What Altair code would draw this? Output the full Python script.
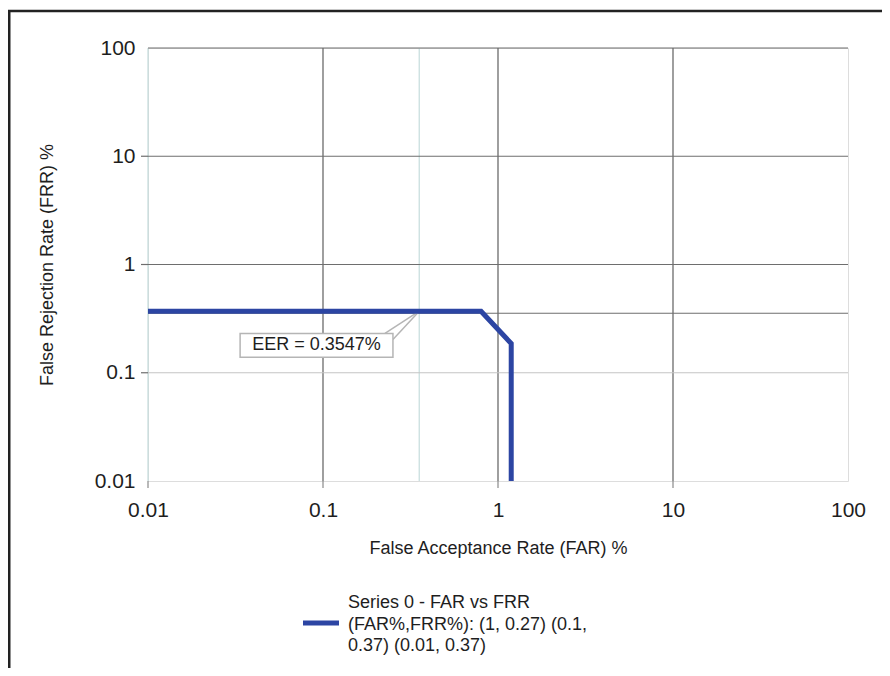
import altair as alt
import pandas as pd

# ---- data ----
far = [0.01, 0.8, 1.19, 1.19]
frr = [0.37, 0.37, 0.186, 0.01]
axis_values = [0.01, 0.1, 1, 10, 100]
x_tick_values = [0.01, 0.1, 1, 10]
y_tick_values = [10, 1, 0.1]
grid_v_dark = [0.1, 1, 10]
grid_v_light = [0.01, 0.3547]
grid_h_dark = [100, 10, 1, 0.3547]
grid_h_light = [0.1]
eer_far = 0.3547
eer_frr = 0.37
eer_label = "EER = 0.3547%"
box_far = [0.0336, 0.251]
box_frr = [0.139, 0.231]
pointer_far = [0.226, 0.251]
pointer_frr = [0.231, 0.203]
legend_lines = ["Series 0 - FAR vs FRR", "(FAR%,FRR%): (1, 0.27) (0.1,", "0.37) (0.01, 0.37)"]

W, H = 700, 433
FONT = "Liberation Sans"
BLUE = "#2c45a3"
TXT = "#1e1e1e"
xs = alt.Scale(type="log", domain=[0.01, 100])
ys = alt.Scale(type="log", domain=[0.01, 100])

AX = alt.Axis(
    values=axis_values, format="~g", grid=False, domain=False, ticks=False,
    labelPadding=18, labelFontSize=21,
    labelColor=TXT, labelFont=FONT, labelFlush=False, labelOverlap=False,
    labelBound=False, title="False Acceptance Rate (FAR) %", titleFontSize=18,
    titleFontWeight="normal", titleColor=TXT, titleFont=FONT, titlePadding=19)
AY = alt.Axis(
    values=axis_values, format="~g", grid=False, domain=False, ticks=False,
    labelPadding=13, labelFontSize=21,
    labelColor=TXT, labelFont=FONT, labelOverlap=False, labelBound=False,
    title="False Rejection Rate (FRR) %", titleFontSize=18, titleFontWeight="normal",
    titleColor=TXT, titleFont=FONT, titlePadding=38)

def X(f):
    return alt.X(f, scale=xs, axis=AX)

def Y(f):
    return alt.Y(f, scale=ys, axis=AY)

curve_df = pd.DataFrame({"FAR": far, "FRR": frr, "order": list(range(len(far)))})
curve = alt.Chart(curve_df).mark_line(color=BLUE, strokeWidth=5, strokeJoin="miter", clip=False).encode(
    x=X("FAR:Q"), y=Y("FRR:Q"), order="order:O")

def vgrid(vals, color, width):
    df = pd.DataFrame({"v": vals, "top": [100] * len(vals), "bot": [0.01] * len(vals)})
    return alt.Chart(df).mark_rule(color=color, strokeWidth=width).encode(
        x=X("v:Q"), y=Y("top:Q"), y2="bot:Q")

def hgrid(vals, color, width):
    df = pd.DataFrame({"v": vals, "lo": [0.01] * len(vals), "hi": [100] * len(vals)})
    return alt.Chart(df).mark_rule(color=color, strokeWidth=width).encode(
        y=Y("v:Q"), x=X("lo:Q"), x2="hi:Q")

grids = [
    vgrid(grid_v_light, "#c5dcdc", 1.2),
    vgrid(grid_v_dark, "#5e5e5e", 1.2),
    hgrid(grid_h_light, "#c4c4c4", 1.2),
    hgrid(grid_h_dark, "#6e6e6e", 1.2),
]

yticks = alt.Chart(pd.DataFrame({"v": y_tick_values})).mark_rule(color="#6e6e6e", strokeWidth=1.2).encode(
    y=Y("v:Q"), x=alt.value(-7), x2=alt.value(0))
xticks = alt.Chart(pd.DataFrame({"v": x_tick_values})).mark_rule(color="#8a8a8a", strokeWidth=1.2).encode(
    x=X("v:Q"), y=alt.value(H), y2=alt.value(H + 7))

ptr_df = pd.DataFrame({"x": pointer_far, "y": pointer_frr, "x2": [eer_far] * 2, "y2": [eer_frr] * 2})
pointer = alt.Chart(ptr_df).mark_rule(color="#b5b5b5", strokeWidth=1.5).encode(
    x=X("x:Q"), y=Y("y:Q"), x2="x2:Q", y2="y2:Q")

box = alt.Chart(pd.DataFrame({"x": [box_far[0]], "x2": [box_far[1]], "y": [box_frr[0]], "y2": [box_frr[1]]})).mark_rect(
    fill="white", stroke="#b5b5b5", strokeWidth=1.5).encode(
    x=X("x:Q"), x2="x2:Q", y=Y("y:Q"), y2="y2:Q")

gm = lambda a: (a[0] * a[1]) ** 0.5
label = alt.Chart(pd.DataFrame({"x": [gm(box_far)], "y": [gm(box_frr)], "t": [eer_label]})).mark_text(
    font=FONT, fontSize=18, color=TXT, align="center", baseline="middle").encode(
    x=X("x:Q"), y=Y("y:Q"), text="t:N")

legend_sym = alt.Chart(pd.DataFrame({"s": ["Series 0"]})).mark_rule(color=BLUE, strokeWidth=5).encode(
    x=alt.value(155), x2=alt.value(191), y=alt.value(575))
legend_txt = alt.Chart(pd.DataFrame({"t": ["\n".join(legend_lines)]})).mark_text(
    font=FONT, fontSize=18, color=TXT, align="left", baseline="middle", lineBreak="\n",
    lineHeight=21.5).encode(x=alt.value(200), y=alt.value(555), text="t:N")

frame_top = alt.Chart(pd.DataFrame({"s": [1]})).mark_rule(color="#222222", strokeWidth=2.5).encode(
    x=alt.value(-141), x2=alt.value(742), y=alt.value(-37))
frame_left = alt.Chart(pd.DataFrame({"s": [1]})).mark_rule(color="#222222", strokeWidth=3).encode(
    x=alt.value(-139), y=alt.value(-38), y2=alt.value(640))

chart = alt.layer(*grids, yticks, xticks, pointer, box, label, curve, legend_sym, legend_txt,
                  frame_top, frame_left).properties(
    width=W, height=H,
    autosize=alt.AutoSizeParams(type="none"),
    padding={"left": 140, "top": 40, "right": 34, "bottom": 187},
).configure_view(stroke=None).configure(font=FONT, background="white")

chart.save("out.html", embed_options={"renderer": "svg", "actions": False})
